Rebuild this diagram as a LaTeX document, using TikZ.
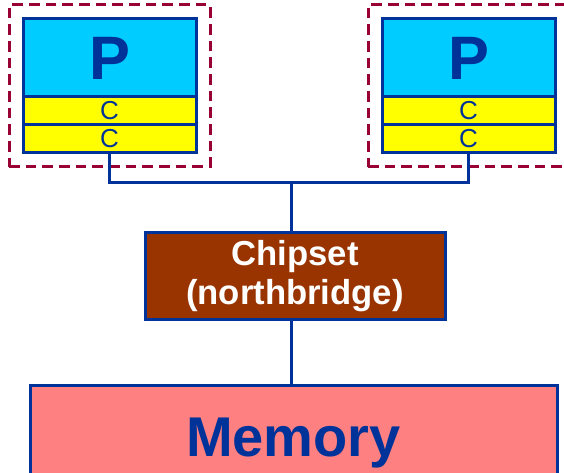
\documentclass[tikz,border=0pt]{standalone}
\usepackage{fontspec}
\setmainfont{Liberation Sans}
\usetikzlibrary{fit,positioning}
\definecolor{busBlue}{HTML}{003399}
\definecolor{cpuColor}{HTML}{00CCFF}
\definecolor{cacheColor}{HTML}{FFFF00}
\definecolor{chipColor}{HTML}{993300}
\definecolor{memColor}{HTML}{FF8080}
\definecolor{groupColor}{HTML}{990033}

\begin{document}
\begin{tikzpicture}[
  x=0.75pt, y=-0.75pt,
  unit/.style={
    draw=busBlue,
    line width=2.25pt,
    inner sep=0pt,
    outer sep=0pt,
    text=busBlue
  },
  cpu/.style={unit, fill=cpuColor, minimum width=129.75pt, minimum height=58.5pt,
    font=\fontsize{46}{46}\selectfont\bfseries},
  cache/.style={unit, fill=cacheColor, minimum width=129.75pt, minimum height=21pt,
    font=\fontsize{19.5}{19.5}\selectfont},
  chip/.style={unit, fill=chipColor, text=white, align=center,
    minimum width=225pt, minimum height=65.25pt,
    font=\fontsize{26}{29}\selectfont\bfseries},
  memory/.style={unit, fill=memColor, minimum width=395.25pt, minimum height=85.5pt,
    font=\fontsize{42}{42}\selectfont\bfseries},
  group/.style={draw=groupColor, line width=2.25pt, dash pattern=on 8pt off 4.5pt,
    inner sep=10.5pt},
  bus/.style={draw=busBlue, line width=2.25pt}
]
\useasboundingbox (0,0) rectangle (564,473);
\clip (0,0) rectangle (564,473);

\node[cpu] (cpu-left) at (109.5,58) {P};
\node[cache, below=0pt of cpu-left] (cache-left1) {C};
\node[cache, below=0pt of cache-left1] (cache-left2) {C};
\node[group, fit=(cpu-left) (cache-left2)] (group-left) {};

\node[cpu] (cpu-right) at (468.5,58) {P};
\node[cache, below=0pt of cpu-right] (cache-right1) {C};
\node[cache, below=0pt of cache-right1] (cache-right2) {C};
\node[group, fit=(cpu-right) (cache-right2)] (group-right) {};

\node[chip] (chipset) at (295,276) {Chipset\\(northbridge)};
\node[memory] (mem) at (293.5,443) {Memory};

\coordinate (bus) at (291,183);

\draw[bus] (cache-left2.south) -- (cache-left2.south |- bus)
  -- (cache-right2.south |- bus) -- (cache-right2.south);
\draw[bus] (bus) -- (bus |- chipset.north);
\draw[bus] (bus |- chipset.south) -- (bus |- mem.north);

\end{tikzpicture}
\end{document}
